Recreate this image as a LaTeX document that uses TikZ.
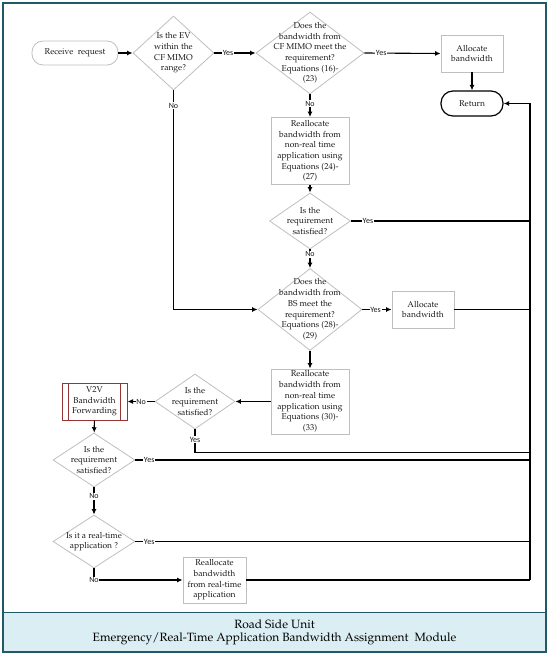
\documentclass[tikz,border=0pt]{standalone}
\usepackage[T1]{fontenc}
\usepackage{fontspec}
\newfontfamily\lblfont{Carlito}
\newcommand\palfont{\fontencoding{T1}\fontfamily{ppl}\selectfont}
\usetikzlibrary{shapes.geometric,arrows.meta}
\definecolor{gbox}{HTML}{BFBFBF}
\definecolor{frame}{HTML}{215968}
\definecolor{bandc}{HTML}{DAEEF3}
\definecolor{v2vc}{HTML}{943634}
\definecolor{txt}{HTML}{1A1A1A}
\tikzset{
  mtxt/.style={text=txt, align=center, font=\palfont\fontsize{8.5}{10.7}\selectfont},
  box/.style={mtxt, draw=gbox, line width=0.8pt, fill=white, inner sep=1pt},
  rnd/.style={box, rounded corners=11pt},
  retst/.style={mtxt, draw=black, line width=1.2pt, fill=white, rounded corners=12pt, inner sep=1pt},
  v2vbox/.style={mtxt, draw=v2vc, line width=1pt, fill=white, inner sep=1pt},
  dia/.style={diamond, draw=gbox, line width=0.8pt, fill=white, inner sep=0pt},
  dtxt/.style={mtxt, inner sep=0pt},
  arr/.style={line width=1.1pt, -{Latex[length=5.5pt,width=5pt]}},
  ln/.style={line width=1.1pt},
  lbl/.style={fill=white, text=txt, inner sep=0.8pt, font=\lblfont\fontsize{8}{9}\selectfont},
}
\begin{document}
\begin{tikzpicture}[x=1pt,y=-1pt]
\useasboundingbox (0,0) rectangle (550,655);
% frame and band
\node[draw=frame, fill=bandc, line width=1pt, minimum width=543pt, minimum height=39pt, inner sep=0pt,
      align=center, font=\palfont\fontsize{12}{13}\selectfont, text=black] (band) at (274.5,632)
      {Road Side Unit\\Emergency/Real-Time Application Bandwidth Assignment\ \ Module};
\node[draw=frame, line width=1.5pt, minimum width=543pt, minimum height=649pt, inner sep=0pt] (frm) at (274.5,327.5) {};
% nodes
\node[rnd, minimum width=86pt, minimum height=24pt] (rec) at (75,53) {Receive\ \ request};
\node[dia, minimum width=81pt, minimum height=74pt,
      label={[dtxt]center:{Is the EV\\within the\\CF MIMO\\range?}}] (d1) at (173.5,53) {};
\node[dia, minimum width=108pt, minimum height=82pt,
      label={[dtxt]center:{Does the\\bandwidth from\\CF MIMO meet the\\requirement?\\Equations (16)-\\(23)}}] (d2) at (310,53) {};
\node[box, minimum width=62pt, minimum height=37pt] (al1) at (472,53.5) {Allocate\\bandwidth};
\node[retst, minimum width=62pt, minimum height=25pt] (ret) at (472,103.5) {Return};
\node[box, minimum width=78pt, minimum height=67pt] (re1) at (310,151)
      {Reallocate\\bandwidth from\\non-real time\\application using\\Equations (24)-\\(27)};
\node[dia, minimum width=81pt, minimum height=56pt,
      label={[dtxt]center:{Is the\\requirement\\satisfied?}}] (d3) at (310,221) {};
\node[dia, minimum width=104pt, minimum height=82pt,
      label={[dtxt]center:{Does the\\bandwidth from\\BS meet the\\requirement?\\Equations (28)-\\(29)}}] (d4) at (310,309.5) {};
\node[box, minimum width=62pt, minimum height=37pt] (al2) at (423,309.5) {Allocate\\bandwidth};
\node[box, minimum width=78pt, minimum height=65pt] (re2) at (310,401.5)
      {Reallocate\\bandwidth from\\non-real time\\application using\\Equations (30)-\\(33)};
\node[dia, minimum width=80pt, minimum height=55pt,
      label={[dtxt]center:{Is the\\requirement\\satisfied?}}] (d5) at (195,401.5) {};
\node[v2vbox, minimum width=65pt, minimum height=37pt] (v2v) at (94.5,401.5) {V2V\\Bandwidth\\Forwarding};
\draw[v2vc, line width=1pt] ([xshift=7pt]v2v.north west) -- ([xshift=7pt]v2v.south west);
\draw[v2vc, line width=1pt] ([xshift=-7pt]v2v.north east) -- ([xshift=-7pt]v2v.south east);
\node[dia, minimum width=82pt, minimum height=54pt,
      label={[dtxt]center:{Is the\\requirement\\satisfied?}}] (d6) at (94,460) {};
\node[dia, minimum width=82pt, minimum height=53pt,
      label={[dtxt]center:{Is it a real-time\\application ?}}] (d7) at (94,541.5) {};
\node[box, minimum width=63pt, minimum height=46pt] (re3) at (214.5,580)
      {Reallocate\\bandwidth\\from real-time\\application};
% bus coordinates
\coordinate (rt) at (530,103.5);
\coordinate (rb) at (530,580);
% connectors
\draw[arr] (rec) -- (d1);
\draw[arr] (d1.east) -- node[lbl,pos=0.33]{Yes} (d2.west);
\draw[arr] (d2.east) -- node[lbl,pos=0.22]{Yes} (al1.west);
\draw[arr] (al1) -- (ret);
\draw[arr] (d2.south) -- node[lbl,pos=0.4]{No} (re1.north);
\draw[arr] (re1) -- (d3);
\draw[ln] (d3.east) -- node[lbl,pos=0.095]{Yes} (d3.east -| rb);
\draw[arr] (d3.south) -- node[lbl,pos=0.27]{No} (d4.north);
\draw[arr] (d1.south) -- node[lbl,pos=0.07]{No} (d1.south |- d4.west) -- (d4.west);
\draw[arr] (d4.east) -- node[lbl,pos=0.45]{Yes} (al2.west);
\draw[ln] (al2.east) -- (al2.east -| rb);
\draw[arr] (d4.south) -- (re2.north);
\draw[arr] (re2.west) -- (d5.east);
\draw[arr] (d5.west) -- node[lbl,pos=0.5]{No} (v2v.east);
\draw[ln] (d5.south) -- node[lbl,pos=0.45]{Yes} ++(0,23) coordinate (d5c) -- (d5c -| rb);
\draw[arr] (v2v) -- (d6);
\draw[ln] (d6.east) -- node[lbl,pos=0.035]{Yes} (d6.east -| rb);
\draw[arr] (d6.south) -- node[lbl,pos=0.32]{No} (d7.north);
\draw[ln] (d7.east) -- node[lbl,pos=0.035]{Yes} (d7.east -| rb);
\draw[arr] (d7.south) |- node[lbl,pos=0.5]{No} (re3.west);
\draw[ln] (re3.east) -- (rb);
\draw[arr] (rb) -- (rt) -- (ret.east);
\end{tikzpicture}
\end{document}
